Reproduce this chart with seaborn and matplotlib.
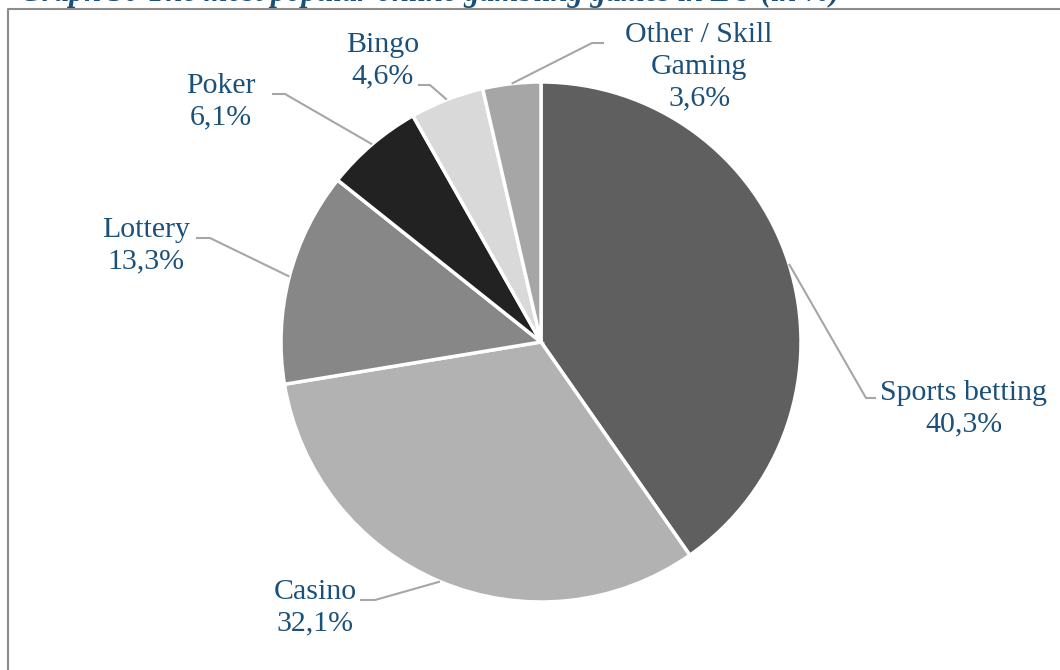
import numpy as np
import matplotlib
matplotlib.use("Agg")
import matplotlib.pyplot as plt
import seaborn as sns

# Share of online gambling revenue by game type (%)
categories = ["Sports betting", "Casino", "Lottery", "Poker", "Bingo", "Other / Skill\nGaming"]
shares = [40.3, 32.1, 13.3, 6.1, 4.6, 3.6]
slice_colors = ["#5f5f5f", "#b2b2b2", "#878787", "#222222", "#d9d9d9", "#a6a6a6"]
title = "Graph 30 The most popular online gambling games in EU (in %)"

sns.set_theme(style="white")
plt.rcParams["font.family"] = ["Liberation Serif", "DejaVu Serif"]

W, H = 1060, 670
fig = plt.figure(figsize=(W / 100, H / 100), dpi=100)
ax = fig.add_axes([0, 0, 1, 1])

text_blue = "#1a5079"
leader_grey = "#a6a6a6"

# pie geometry in pixel units (y measured from the top)
cx, cy, r = 541, 342, 260

def px(x, y):
    return x, H - y

wedges, _ = ax.pie(
    shares,
    colors=sns.color_palette(slice_colors),
    startangle=90,
    counterclock=False,
    center=px(cx, cy),
    radius=r,
    wedgeprops=dict(edgecolor="white", linewidth=2.5),
)

# label block centres and leader elbow / end points (pixels from top-left)
label_pos = [(964, 409), (315, 608), (146, 246), (221, 102), (383, 61), (699, 67)]
elbows = [((866, 398), (876, 398)),
          ((375, 600), (360, 600)),
          ((210, 238), (196, 238)),
          ((285, 94), (272, 94)),
          ((430, 85), (418, 85)),
          ((592, 43), (604, 43))]

for w, name, val, (lx, ly), (e1, e2) in zip(wedges, categories, shares, label_pos, elbows):
    mid = np.deg2rad((w.theta1 + w.theta2) / 2)
    x0, y0 = w.center[0] + r * np.cos(mid), w.center[1] + r * np.sin(mid)
    xs = [x0, e1[0], e2[0]]
    ys = [y0, H - e1[1], H - e2[1]]
    ax.plot(xs, ys, color=leader_grey, lw=1.5, solid_capstyle="butt", zorder=1)
    label = f"{name}\n{val:.1f}%".replace(".", ",")
    ax.text(*px(lx, ly), label, ha="center", va="center", color=text_blue,
            fontsize=21.5, linespacing=1.28)

# frame lines along the top and left edges
ax.plot([8, 8, W], [0, H - 9, H - 9], color="#8c8c8c", lw=1.5, clip_on=False)

# title, partially running off the top edge
ax.text(20, H - 1, title, ha="left", va="baseline", color=text_blue,
        fontsize=22, fontweight="bold", fontstyle="italic", clip_on=False)

ax.set_xlim(0, W)
ax.set_ylim(0, H)
ax.set_aspect("equal")
ax.axis("off")

fig.savefig("out.png", dpi=100, facecolor="white")
